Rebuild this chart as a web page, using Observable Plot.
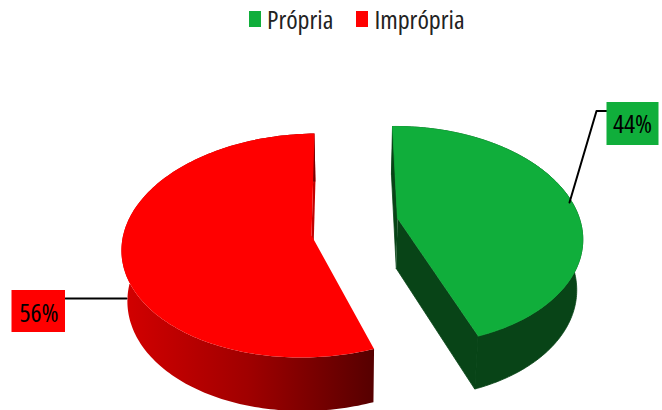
<!DOCTYPE html>
<html>
<head>
<meta charset="utf-8">
<script src="https://cdn.jsdelivr.net/npm/d3@7"></script>
<script src="https://cdn.jsdelivr.net/npm/@observablehq/plot@0.6"></script>
<style>
  html, body { margin: 0; padding: 0; background: #fff; }
  #legend { height: 40px; padding-left: 249px; box-sizing: border-box; overflow: hidden; padding-top: 1px; }
  #legend .lg-swatches { min-height: 0; margin: 0; }
  #legend .lg-swatch { margin-right: 23px; color: #222; }
  #legend .lg-swatch svg { margin-right: 6px; }
  #legend { font-family: "Open Sans", sans-serif; font-stretch: 85%; }
  #chart text { font-family: "Open Sans", sans-serif; font-stretch: 82%; }
  #chart svg { display: block; }
</style>
</head>
<body>
<div id="legend"></div>
<div id="chart"></div>
<script>
// Values
const categories = ["Própria", "Imprópria"];
const shares = [44, 56];
const topColors = ["#10ae3b", "#ff0000"];
const sideColors = ["#084417", "#c40000"];

// Layout of each exploded slice (pixels of the 662x410 frame)
const apexes = [[397, 218], [311, 235]];
const centres = [[402, 235], [309, 245]];
const axisUp = [[-10, -109], [5, -112]];
const axisRight = [[180, -2], [188, -2]];
const vanishX = 350, depthScale = 0.974, depth = 50, depthGrow = 0.025, depthRef = 218;
const boxes = [[606.5, 102, 658.5, 145], [11.5, 290, 65, 332]];
const leaders = [
  [[569, 202], [596, 110.5], [606.5, 110.5]],
  [[65, 298], [126, 298]]
];
const labelAnchors = [[632, 124.5], [38.5, 313]];

const total = d3.sum(shares);
const starts = d3.cumsum([0, ...shares]).map(v => v / total * 2 * Math.PI);

const rimPoint = (i, t) => [
  centres[i][0] + axisUp[i][0] * Math.cos(t) + axisRight[i][0] * Math.sin(t),
  centres[i][1] + axisUp[i][1] * Math.cos(t) + axisRight[i][1] * Math.sin(t)
];
const lower = ([x, y]) => [vanishX + (x - vanishX) * depthScale, y + depth + (y - depthRef) * depthGrow];

const polygon = pts => pts.map(([x, y]) => ({x, y}));
const topFaces = [], bandFaces = [], startFaces = [], endFaces = [];
shares.forEach((_, i) => {
  const n = 160, a0 = starts[i], a1 = starts[i + 1];
  const arc = d3.range(n + 1).map(k => rimPoint(i, a0 + (a1 - a0) * k / n));
  topFaces.push(polygon([apexes[i], ...arc]));
  bandFaces.push(polygon([...arc, ...arc.map(lower).reverse()]));
  startFaces.push(polygon([apexes[i], arc[0], lower(arc[0]), lower(apexes[i])]));
  endFaces.push(polygon([apexes[i], arc[n], lower(arc[n]), lower(apexes[i])]));
});

const face = (pts, fill, stroke = "none") => Plot.line(pts, {x: "x", y: "y", fill, stroke, strokeWidth: 0.8, curve: "linear"});

const gradient = () => {
  const ns = "http://www.w3.org/2000/svg";
  const defs = document.createElementNS(ns, "defs");
  const g = document.createElementNS(ns, "linearGradient");
  g.setAttribute("id", "redWall");
  [[0, "#d40000"], [0.5, "#a00000"], [1, "#560000"]].forEach(([o, c]) => {
    const s = document.createElementNS(ns, "stop");
    s.setAttribute("offset", o);
    s.setAttribute("stop-color", c);
    g.appendChild(s);
  });
  defs.appendChild(g);
  return defs;
};

document.getElementById("legend").appendChild(Plot.legend({
  color: {domain: categories, range: topColors, type: "categorical"},
  className: "lg", swatchWidth: 12, swatchHeight: 16,
  style: {fontSize: "26px", fontFamily: "'Open Sans', sans-serif"}
}));

const labels = shares.map((v, i) => ({
  label: v + "%", x: labelAnchors[i][0], y: labelAnchors[i][1],
  x1: boxes[i][0], y1: boxes[i][1], x2: boxes[i][2], y2: boxes[i][3], fill: topColors[i]
}));

const chart = Plot.plot({
  width: 662, height: 370,
  margin: 0,
  x: {domain: [0, 662], range: [0, 662], axis: null},
  y: {domain: [40, 410], range: [0, 370], axis: null},
  marks: [
    gradient,
    // Red slice
    face(endFaces[1], sideColors[1]),
    face(bandFaces[1], "url(#redWall)"),
    face(topFaces[1], topColors[1]),
    // Green slice
    face(startFaces[0], sideColors[0], sideColors[0]),
    face(endFaces[0], sideColors[0], sideColors[0]),
    face(bandFaces[0], sideColors[0], sideColors[0]),
    face(topFaces[0], topColors[0], topColors[0]),
    // Leaders and labels
    ...leaders.map(l => Plot.line(polygon(l), {x: "x", y: "y", stroke: "#000", strokeWidth: 2, curve: "linear"})),
    Plot.rect(labels, {x1: "x1", x2: "x2", y1: "y1", y2: "y2", fill: "fill"}),
    Plot.text(labels, {x: "x", y: "y", text: "label", fontSize: 26, fill: "#000"})
  ]
});
document.getElementById("chart").appendChild(chart);
</script>
</body>
</html>
